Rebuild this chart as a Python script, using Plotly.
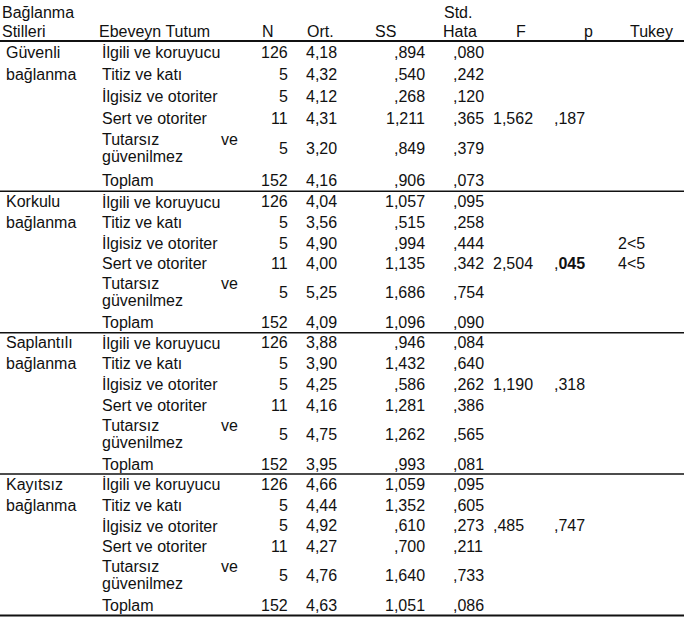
import plotly.graph_objects as go

# table data
groups = [["Güvenli", "bağlanma"], ["Korkulu", "bağlanma"],
          ["Saplantılı", "bağlanma"], ["Kayıtsız", "bağlanma"]]
attitudes = ["İlgili ve koruyucu", "Titiz ve katı", "İlgisiz ve otoriter",
             "Sert ve otoriter", "Tutarsız ve güvenilmez", "Toplam"]
n_values = [126, 5, 5, 11, 5, 152]
means = [
    ["4,18", "4,32", "4,12", "4,31", "3,20", "4,16"],
    ["4,04", "3,56", "4,90", "4,00", "5,25", "4,09"],
    ["3,88", "3,90", "4,25", "4,16", "4,75", "3,95"],
    ["4,66", "4,44", "4,92", "4,27", "4,76", "4,63"],
]
sds = [
    [",894", ",540", ",268", "1,211", ",849", ",906"],
    ["1,057", ",515", ",994", "1,135", "1,686", "1,096"],
    [",946", "1,432", ",586", "1,281", "1,262", ",993"],
    ["1,059", "1,352", ",610", ",700", "1,640", "1,051"],
]
ses = [
    [",080", ",242", ",120", ",365", ",379", ",073"],
    [",095", ",258", ",444", ",342", ",754", ",090"],
    [",084", ",640", ",262", ",386", ",565", ",081"],
    [",095", ",605", ",273", ",211", ",733", ",086"],
]
f_values = ["1,562", "2,504", "1,190", ",485"]
f_rows = [3, 3, 2, 2]
p_values = [",187", ",<b>045</b>", ",318", ",747"]
tukey = [[], ["2<5", "4<5"], [], []]

W, H = 684, 619
FONT = dict(family="Liberation Sans, Arial, sans-serif", size=16, color="#111")

# layout: column x positions (px) and row geometry
X_GROUP, X_ATT, X_ATT_END = 7, 103, 237
X_N, X_ORT, X_SS = 287, 336, 424
X_SE, X_F, X_P, X_TUKEY = 454, 494, 555, 619
HEAD_LINE = 41
pitches = [22, 20.7, 20.7, 20.7]
row_offsets = [0.5, 1.5, 2.5, 3.5, 4.9, 6.35]
group_units = 6.83

fig = go.Figure()
ann = []


def txt(x, y, s, anchor="left"):
    shift = {"left": -3, "right": 3, "center": 0}[anchor]
    ann.append(dict(x=x, y=y, text=s, xref="x", yref="y", showarrow=False,
                    xanchor=anchor, yanchor="middle", xshift=shift, font=FONT))


def hline(y, w):
    fig.add_shape(type="line", x0=0, x1=W, y0=y, y1=y, xref="x", yref="y",
                  line=dict(color="#111", width=w))


# header
txt(3, 12, "Bağlanma")
txt(3, 31, "Stilleri")
txt(X_ATT - 3, 31, "Ebeveyn Tutum")
txt(268, 31, "N", "center")
txt(X_ORT - 3, 31, "Ort.", "right")
txt(385, 31, "SS", "center")
txt(458, 12, "Std.", "center")
txt(460, 31, "Hata", "center")
txt(521, 31, "F", "center")
txt(592, 31, "p", "right")
txt(672, 31, "Tukey", "right")
hline(HEAD_LINE, 2)

top = HEAD_LINE
for g in range(len(groups)):
    p = pitches[g]
    ys = [top + o * p for o in row_offsets]
    txt(X_GROUP, ys[0], groups[g][0])
    txt(X_GROUP, ys[1], groups[g][1])
    for r, att in enumerate(attitudes):
        y = ys[r]
        if r == 4:
            words = att.split(" ")
            txt(X_ATT, y - 9, words[0])
            txt(X_ATT_END, y - 9, words[1], "right")
            txt(X_ATT, y + 8, words[2])
        else:
            txt(X_ATT, y, att)
        txt(X_N, y, str(n_values[r]), "right")
        txt(X_ORT, y, means[g][r], "right")
        txt(X_SS, y, sds[g][r], "right")
        txt(X_SE, y, ses[g][r])
    txt(X_F, ys[f_rows[g]], f_values[g])
    txt(X_P, ys[f_rows[g]], p_values[g])
    for k, t in enumerate(tukey[g]):
        txt(X_TUKEY, ys[2 + k], t)
    top += group_units * p
    hline(top, 2 if g == len(groups) - 1 else 1.5)

fig.update_layout(
    width=W, height=H, margin=dict(l=0, r=0, t=0, b=0),
    paper_bgcolor="white", plot_bgcolor="white", showlegend=False,
    annotations=ann,
    xaxis=dict(range=[0, W], visible=False, fixedrange=True),
    yaxis=dict(range=[H, 0], visible=False, fixedrange=True),
)
fig.write_html("out.html", config={"displayModeBar": False},
               post_script="document.body.style.margin='0';document.body.style.overflow='hidden';")
